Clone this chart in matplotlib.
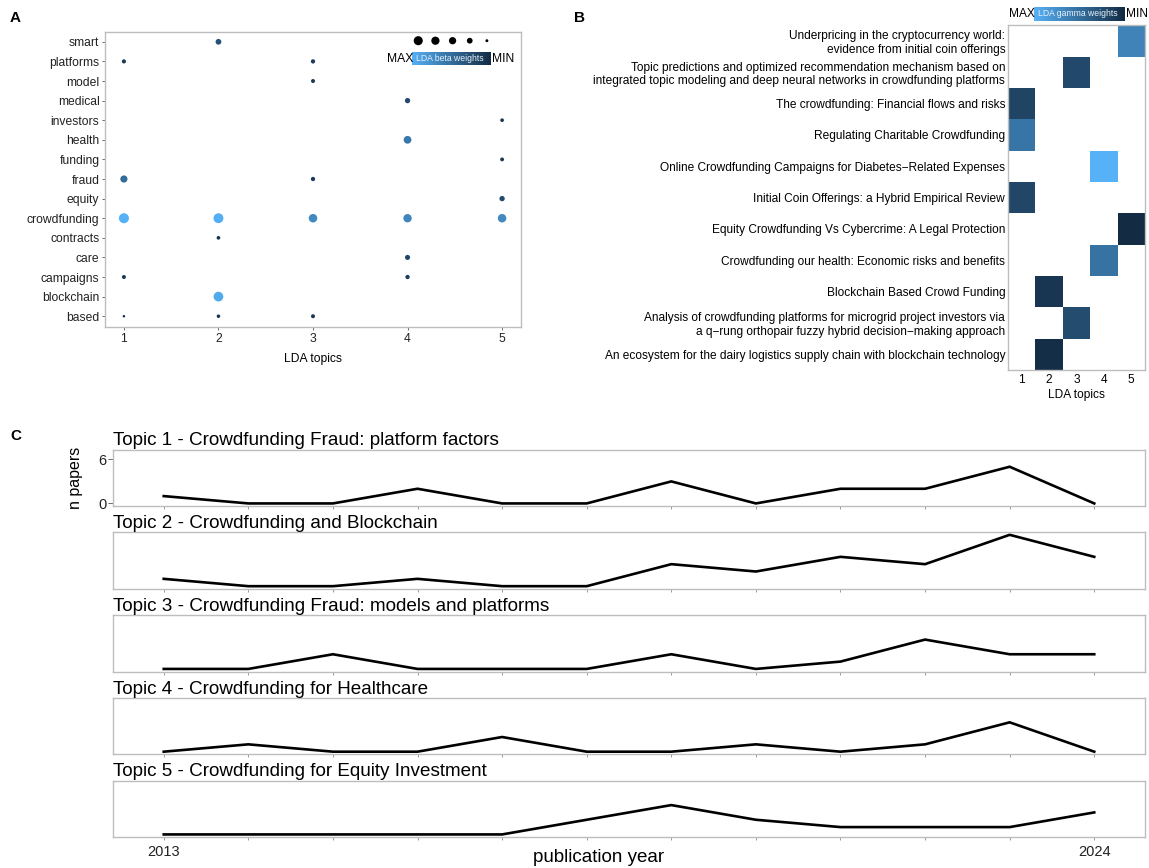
import numpy as np
import matplotlib
matplotlib.use("Agg")
import matplotlib.pyplot as plt
from matplotlib.colors import LinearSegmentedColormap, Normalize

plt.rcParams['font.family'] = ['Liberation Sans', 'DejaVu Sans']

# ---- panel A: top terms per topic (LDA beta) ----
terms = ["based", "blockchain", "campaigns", "care", "contracts", "crowdfunding",
         "equity", "fraud", "funding", "health", "investors", "medical", "model",
         "platforms", "smart"]
beta_term = ["based", "based", "based", "blockchain", "campaigns", "campaigns", "care",
             "contracts", "crowdfunding", "crowdfunding", "crowdfunding", "crowdfunding",
             "crowdfunding", "equity", "fraud", "fraud", "funding", "health", "investors",
             "medical", "model", "platforms", "platforms", "smart"]
beta_topic = [1, 2, 3, 2, 1, 4, 4, 2, 1, 2, 3, 4, 5, 5, 1, 3, 5, 4, 5, 4, 3, 1, 3, 2]
beta_value = [0.008, 0.013, 0.016, 0.080, 0.016, 0.018, 0.024, 0.014, 0.085, 0.083,
              0.062, 0.060, 0.062, 0.026, 0.045, 0.018, 0.015, 0.052, 0.014, 0.026,
              0.016, 0.017, 0.018, 0.030]
beta_legend = [0.07, 0.058, 0.046, 0.03, 0.01]

# ---- panel B: documents with highest gamma ----
docs = ["Underpricing in the cryptocurrency world:\nevidence from initial coin offerings",
        "Topic predictions and optimized recommendation mechanism based on\nintegrated topic modeling and deep neural networks in crowdfunding platforms",
        "The crowdfunding: Financial flows and risks",
        "Regulating Charitable Crowdfunding",
        "Online Crowdfunding Campaigns for Diabetes\u2212Related Expenses",
        "Initial Coin Offerings: a Hybrid Empirical Review",
        "Equity Crowdfunding Vs Cybercrime: A Legal Protection",
        "Crowdfunding our health: Economic risks and benefits",
        "Blockchain Based Crowd Funding",
        "Analysis of crowdfunding platforms for microgrid project investors via\na q\u2212rung orthopair fuzzy hybrid decision\u2212making approach",
        "An ecosystem for the dairy logistics supply chain with blockchain technology"]
doc_topic = [5, 3, 1, 1, 4, 1, 5, 4, 2, 3, 2]
doc_gamma = [0.82, 0.61, 0.59, 0.77, 0.99, 0.60, 0.50, 0.76, 0.54, 0.62, 0.51]

# ---- panel C: papers per year per topic ----
years = list(range(2013, 2025))
topic_titles = ["Topic 1 - Crowdfunding Fraud: platform factors",
                "Topic 2 - Crowdfunding and Blockchain",
                "Topic 3 - Crowdfunding Fraud: models and platforms",
                "Topic 4 - Crowdfunding for Healthcare",
                "Topic 5 - Crowdfunding for Equity Investment"]
t1 = [1, 0, 0, 2, 0, 0, 3, 0, 2, 2, 5, 0]
t2 = [1, 0, 0, 1, 0, 0, 3, 2, 4, 3, 7, 4]
t3 = [0, 0, 2, 0, 0, 0, 2, 0, 1, 4, 2, 2]
t4 = [0, 1, 0, 0, 2, 0, 0, 1, 0, 1, 4, 0]
t5 = [0, 0, 0, 0, 0, 2, 4, 2, 1, 1, 1, 3]
counts = [t1, t2, t3, t4, t5]

cmap = LinearSegmentedColormap.from_list("gg", ["#132B43", "#56B1F7"])
border = "#BDBDBD"
W, H = 1149, 868


def px_axes(fig, x0, y0, x1, y1):
    # pixel box (top-left origin) -> figure axes
    return fig.add_axes([x0 / W, 1 - y1 / H, (x1 - x0) / W, (y1 - y0) / H])


fig = plt.figure(figsize=(W / 100, H / 100), dpi=100)

# ================= A =================
axA = px_axes(fig, 105, 32, 521, 327)
bmin, bmax = min(beta_value), max(beta_value)
normA = Normalize(bmin, bmax)


def dot_size(b):
    return 3.2 + normA(np.asarray(b)) * 49


ypos = [terms.index(t) + 1 for t in beta_term]
axA.scatter(beta_topic, ypos, s=dot_size(beta_value), c=beta_value, cmap=cmap,
            norm=normA, linewidths=0, zorder=3)
axA.set_xlim(0.8, 5.2)
axA.set_ylim(0.45, 15.5)
axA.set_xticks([1, 2, 3, 4, 5])
axA.set_yticks(range(1, len(terms) + 1))
axA.set_yticklabels(terms)
axA.tick_params(labelsize=8.7, length=2.5, width=0.6, color="#555555", pad=1.5,
                labelcolor="#222222")
axA.set_xlabel("LDA topics", fontsize=8.7, labelpad=6)
for sp in axA.spines.values():
    sp.set_color(border)
    sp.set_linewidth(1)

# size legend
lx = np.linspace(0.753, 0.918, len(beta_legend))
axA.scatter(lx, [0.9705] * len(lx), s=dot_size(beta_legend), c="black",
            linewidths=0, transform=axA.transAxes, clip_on=False, zorder=4)
grad = np.linspace(1, 0, 256).reshape(1, -1)
barA = px_axes(fig, 411.7, 52.3, 490, 65)
barA.imshow(grad, cmap=cmap, aspect="auto")
barA.set_axis_off()
barA.text(0.05, 0.5, "LDA beta weights", color="#E8F1FA", fontsize=6.2,
          transform=barA.transAxes, va="center", ha="left")
fig.text(386.7 / W, 1 - 58.7 / H, "MAX", fontsize=8.7, va="center", ha="left")
fig.text(492 / W, 1 - 58.7 / H, "MIN", fontsize=8.7, va="center", ha="left")

# ================= B =================
axB = px_axes(fig, 1008, 25.3, 1145, 370)
mat = np.full((len(docs), 5), np.nan)
for i, (t, g) in enumerate(zip(doc_topic, doc_gamma)):
    mat[i, t - 1] = g
axB.pcolormesh(np.arange(0.5, 6.5), np.arange(-0.5, len(docs)), np.ma.masked_invalid(mat),
               cmap=cmap, vmin=min(doc_gamma), vmax=max(doc_gamma), linewidth=0)
axB.set_xlim(0.5, 5.5)
axB.set_ylim(len(docs) - 0.5, -0.5)
axB.set_xticks([1, 2, 3, 4, 5])
axB.set_yticks(range(len(docs)))
axB.set_yticklabels(docs, linespacing=1.15)
axB.tick_params(axis="y", labelsize=8.6, length=0, pad=2)
axB.tick_params(axis="x", labelsize=8.6, length=0, pad=3)
axB.set_xlabel("LDA topics", fontsize=8.6, labelpad=2)
for sp in axB.spines.values():
    sp.set_color(border)
    sp.set_linewidth(1)

barB = px_axes(fig, 1034, 6.7, 1124.3, 20.7)
barB.imshow(grad, cmap=cmap, aspect="auto")
barB.set_axis_off()
barB.text(0.045, 0.5, "LDA gamma weights", color="#E8F1FA", fontsize=6.2,
          transform=barB.transAxes, va="center", ha="left")
fig.text(1009 / W, 1 - 13.7 / H, "MAX", fontsize=8.6, va="center", ha="left")
fig.text(1126 / W, 1 - 13.7 / H, "MIN", fontsize=8.6, va="center", ha="left")

# ================= C =================
axesC = []
for i, (title, y) in enumerate(zip(topic_titles, counts)):
    top = 449.5 + 82.75 * i
    ax = px_axes(fig, 113, top, 1145, top + 56.5)
    ax.plot(years, y, color="black", linewidth=1.9, solid_joinstyle="miter")
    ax.set_xlim(2012.4, 2024.6)
    ax.set_ylim(-0.35, 7.35)
    ax.set_xticks(years)
    ax.set_xticklabels([])
    ax.tick_params(axis="x", length=2.5, width=0.6, color="#888888")
    if i == 0:
        ax.set_yticks([0, 6])
        ax.tick_params(axis="y", labelsize=10.5, length=3.5, width=0.6,
                       color="#555555", pad=1, labelcolor="#222222")
    else:
        ax.set_yticks([])
    ax.set_title(title, loc="left", fontsize=13.6, pad=3)
    for sp in ax.spines.values():
        sp.set_color(border)
        sp.set_linewidth(1)
    axesC.append(ax)

axesC[-1].set_xticks([2013, 2024], minor=False)
axesC[-1].set_xticks(years, minor=True)
axesC[-1].set_xticklabels(["2013", "2024"])
axesC[-1].tick_params(axis="x", which="both", labelsize=10.5, length=2.5, width=0.6,
                      color="#888888", pad=3, labelcolor="#222222")
fig.text(599 / W, 1 - 857 / H, "publication year", fontsize=13.5, ha="center", va="center")
fig.text(75 / W, 1 - 478 / H, "n papers", fontsize=11.5, rotation=90,
         ha="center", va="center")

# panel letters
fig.text(10 / W, 1 - 18 / H, "A", fontsize=11, fontweight="bold", va="center")
fig.text(574 / W, 1 - 18 / H, "B", fontsize=11, fontweight="bold", va="center")
fig.text(10 / W, 1 - 436 / H, "C", fontsize=11, fontweight="bold", va="center")

fig.savefig("out.png", dpi=100)
